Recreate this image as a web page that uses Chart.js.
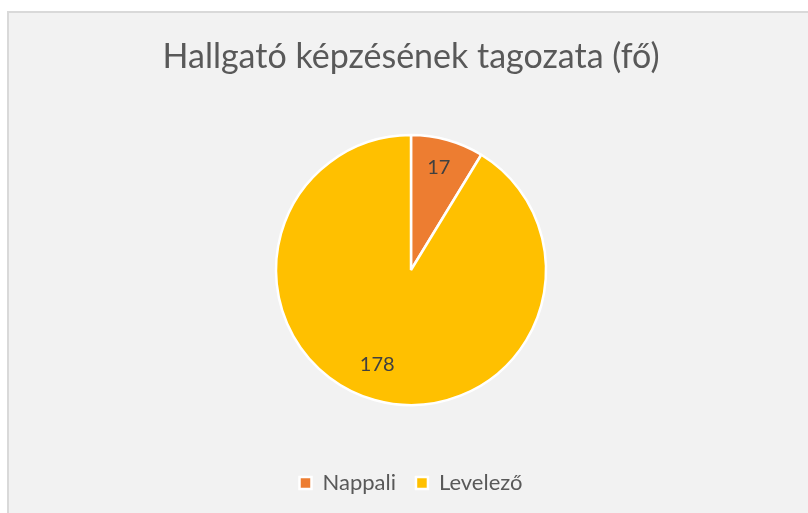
<!DOCTYPE html>
<html>
<head>
<meta charset="utf-8">
<script src="https://cdn.jsdelivr.net/npm/chart.js@4/dist/chart.umd.min.js"></script>
<style>
  html, body { margin: 0; padding: 0; background: #fff; }
  #frame {
    position: absolute; left: 7px; top: 11px; width: 820px; height: 520px;
    background: #F2F2F2; border-left: 2px solid #D9D9D9; border-top: 2px solid #D9D9D9;
  }
  #wrap { position: absolute; left: 0; top: 0; width: 808px; height: 513px; }
</style>
</head>
<body>
<div id="frame"></div>
<div id="wrap"><canvas id="chart"></canvas></div>
<script>
const categories = ['Nappali', 'Levelező'];
const counts = [17, 178];
const colors = ['#ED7D31', '#FFC000'];
const chartTitle = 'Hallgató képzésének tagozata (fő)';

// value labels inside the slices
const sliceLabels = {
  id: 'sliceLabels',
  afterDatasetsDraw(chart) {
    const ctx = chart.ctx;
    const meta = chart.getDatasetMeta(0);
    ctx.save();
    ctx.font = '20px Lato';
    ctx.fillStyle = '#404040';
    ctx.textAlign = 'center';
    ctx.textBaseline = 'middle';
    meta.data.forEach((arc, i) => {
      const p = arc.getProps(['x', 'y', 'startAngle', 'endAngle', 'outerRadius'], true);
      const mid = (p.startAngle + p.endAngle) / 2;
      const r = p.outerRadius * 0.76;
      ctx.fillText(String(counts[i]), p.x + Math.cos(mid) * r - (i ? 6 : 0), p.y + Math.sin(mid) * r - 4);
    });
    ctx.restore();
  }
};

new Chart(document.getElementById('chart'), {
  type: 'pie',
  data: {
    labels: categories,
    datasets: [{
      data: counts,
      backgroundColor: colors,
      borderColor: '#FFFFFF',
      borderWidth: 2.5,
      radius: 135
    }]
  },
  options: {
    responsive: true,
    maintainAspectRatio: false,
    animation: false,
    layout: { padding: { left: 14, right: 0, top: 0, bottom: 9 } },
    plugins: {
      title: {
        display: true,
        text: chartTitle,
        color: '#595959',
        font: { family: 'Lato', size: 34, weight: 'normal' },
        padding: { top: 36.6, bottom: 10.6 }
      },
      legend: {
        position: 'bottom',
        labels: {
          color: '#595959',
          font: { family: 'Lato', size: 22 },
          boxWidth: 12,
          boxHeight: 12,
          padding: 20
        }
      },
      tooltip: { enabled: false }
    }
  },
  plugins: [sliceLabels]
});
</script>
</body>
</html>
